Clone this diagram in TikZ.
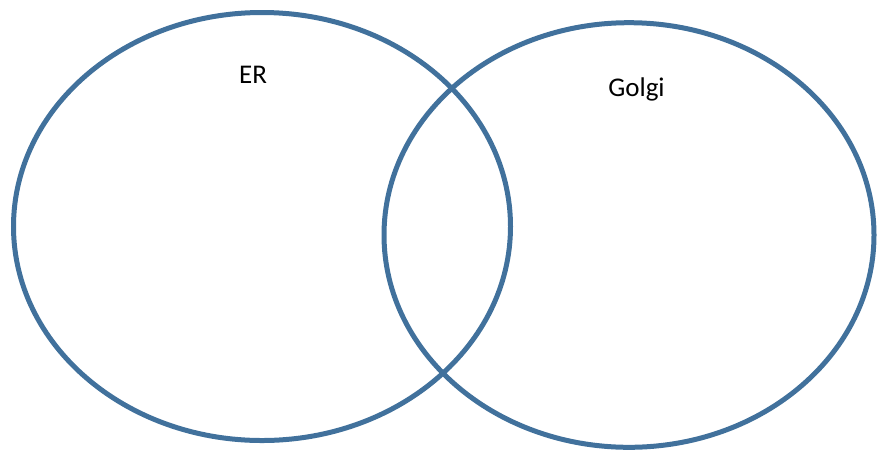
\documentclass[tikz,border=0pt]{standalone}
\usepackage{fontspec}
\setmainfont{Carlito}
\definecolor{ringblue}{RGB}{65,113,156}
\begin{document}
\begin{tikzpicture}[x=1pt,y=-1pt,
  ring/.style={draw=ringblue,line width=5pt},
  lbl/.style={anchor=base,inner sep=0pt,font=\fontsize{27}{32}\selectfont}]
\useasboundingbox (0,0) rectangle (877,451);
\draw[ring] (262,226.5) ellipse [x radius=248.5,y radius=214];
\draw[ring] (629,235) ellipse [x radius=245,y radius=212.3];
\node[lbl] (er) at (253,83) {ER};
\node[lbl] (golgi) at (636.5,96.5) {Golgi};
\end{tikzpicture}
\end{document}
